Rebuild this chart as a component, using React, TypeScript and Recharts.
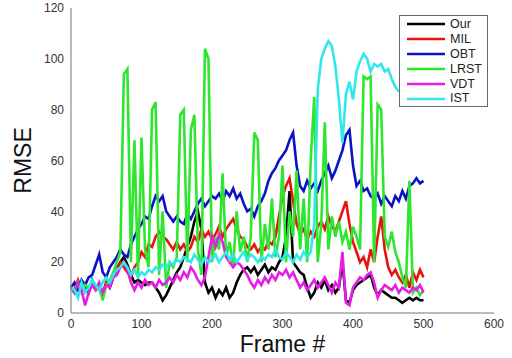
import React from 'react';
import { LineChart, Line, XAxis, YAxis, Legend } from 'recharts';

const FONT = '"Liberation Sans", Arial, Helvetica, sans-serif';

const frames = [
  0, 5, 10, 15, 20, 25, 30, 35, 40, 45, 50,
  55, 60, 65, 70, 75, 80, 85, 90, 95, 100,
  105, 110, 115, 120, 125, 130, 135, 140, 145, 150,
  155, 160, 165, 170, 175, 180, 185, 190, 195, 200,
  205, 210, 215, 220, 225, 230, 235, 240, 245, 250,
  255, 260, 265, 270, 275, 280, 285, 290, 295, 300,
  305, 310, 315, 320, 325, 330, 335, 340, 345, 350,
  355, 360, 365, 370, 375, 380, 385, 390, 395, 400,
  405, 410, 415, 420, 425, 430, 435, 440, 445, 450,
  455, 460, 465, 470, 475, 480, 485, 490, 495, 500,
];

const ourRmse = [
  10, 8, 12, 9, 11, 8, 13, 10, 11, 7, 12,
  10, 14, 17, 20, 22, 19, 15, 12, 13, 12,
  11, 12, 12, 10, 8, 5, 7, 10, 13, 16,
  18, 22, 26, 30, 36, 40, 33, 12, 8, 10,
  6, 9, 7, 10, 6, 8, 12, 15, 17, 18,
  16, 18, 15, 17, 19, 16, 18, 17, 20, 22,
  30, 48, 20, 18, 16, 15, 10, 6, 8, 12,
  10, 13, 9, 11, 8, 10, 20, 5, 4, 9,
  11, 12, 13, 14, 15, 10, 7, 9, 8, 7,
  6, 6, 5, 4, 5, 6, 5, 6, 5, 5,
];

const milRmse = [
  10, 9, 13, 10, 11, 9, 12, 11, 10, 8, 12,
  11, 15, 18, 20, 18, 16, 14, 18, 20, 24,
  22, 27, 26, 30, 32, 30, 29, 27, 25, 28,
  25, 27, 24, 26, 30, 28, 33, 30, 32, 29,
  31, 34, 30, 33, 35, 37, 33, 30, 29, 26,
  25, 27, 24, 26, 25, 28, 27, 30, 38, 46,
  50, 53, 44, 35, 31, 33, 29, 32, 30, 34,
  36, 33, 38, 34, 32, 36, 40, 44, 35, 28,
  24, 20, 22, 18, 25, 20, 30, 38, 25, 18,
  15, 17, 14, 12, 15, 10, 16, 13, 17, 14,
];

const obtRmse = [
  10, 12, 9, 13, 11, 14, 15, 19, 23, 16, 14,
  18, 20, 22, 25, 23, 22, 27, 30, 33, 35,
  38, 37, 42, 46, 44, 46, 40, 38, 36, 38,
  36, 35, 39, 37, 40, 43, 45, 42, 44, 46,
  45, 47, 44, 48, 46, 49, 45, 47, 43, 40,
  41, 38, 42, 44, 47, 52, 55, 57, 60, 62,
  64, 68, 71, 58, 50, 48, 52, 49, 51, 48,
  52, 55, 58, 53, 56, 60, 64, 70, 72, 58,
  50, 52, 48, 49, 46, 45, 47, 43, 46, 44,
  42, 46, 44, 48, 45, 50, 51, 53, 51, 52,
];

const lrstRmse = [
  10, 9, 12, 8, 11, 10, 12, 9, 10, 5, 11,
  13, 16, 20, 24, 94, 96, 20, 68, 15, 69,
  25, 18, 80, 83, 15, 40, 10, 20, 18, 22,
  78, 80, 20, 72, 78, 25, 15, 104, 100, 20,
  30, 25, 55, 22, 28, 18, 40, 24, 30, 20,
  30, 71, 68, 20, 35, 25, 45, 22, 30, 58,
  20, 40, 30, 56, 25, 45, 20, 60, 85, 20,
  35, 75, 25, 38, 30, 36, 28, 32, 25, 34,
  30, 25, 93, 92, 93, 20, 82, 80, 30, 26,
  32, 24, 20, 14, 10, 52, 8, 10, 7, 9,
];

const vdtRmse = [
  10, 8, 12, 9, 3, 8, 11, 9, 12, 8, 11,
  10, 14, 15, 18, 20, 17, 12, 9, 12, 10,
  13, 11, 12, 10, 13, 11, 12, 14, 12, 15,
  13, 16, 14, 18, 16, 13, 11, 14, 22, 30,
  26, 31, 28, 22, 20, 18, 20, 19, 17, 15,
  12, 10, 13, 11, 14, 12, 15, 13, 16, 15,
  17, 14, 16, 13, 10, 12, 9, 11, 13, 10,
  12, 14, 11, 8, 12, 10, 24, 4, 3, 10,
  12, 14, 13, 15, 16, 12, 6, 9, 11, 10,
  9, 11, 8, 10, 9, 8, 10, 9, 11, 8,
];

const istRmse: (number | null)[] = [
  10, 9, 6, 12, 8, 10, 13, 11, 9, 12, 14,
  12, 15, 17, 18, 20, 18, 15, 17, 14, 16,
  15, 17, 16, 18, 17, 19, 18, 20, 19, 21,
  20, 22, 21, 20, 23, 21, 19, 22, 20, 21,
  23, 20, 22, 24, 21, 23, 20, 22, 24, 21,
  23, 22, 20, 22, 21, 23, 22, 25, 22, 21,
  24, 22, 20, 23, 21, 24, 22, 24, 35, 88,
  100, 104, 107, 105, 97, 84, 67, 86, 91, 84,
  95, 99, 102, 100, 95, 98, 97, 98, 95, 96,
  92, 89, 87, null, null, null, null, null, null, null,
];

const xTicks = [0, 100, 200, 300, 400, 500, 600];
const yTicks = [0, 20, 40, 60, 80, 100, 120];

const series = [
  { key: 'our', name: 'Our', color: '#000000', values: ourRmse },
  { key: 'mil', name: 'MIL', color: '#e8140c', values: milRmse },
  { key: 'obt', name: 'OBT', color: '#0a12c8', values: obtRmse },
  { key: 'lrst', name: 'LRST', color: '#2ee62e', values: lrstRmse },
  { key: 'vdt', name: 'VDT', color: '#e41ee4', values: vdtRmse },
  { key: 'ist', name: 'IST', color: '#30e8e8', values: istRmse },
];

const data = frames.map((f, i) => {
  const row: Record<string, number | null> = { frame: f };
  series.forEach((s) => {
    row[s.key] = s.values[i] as number | null;
  });
  return row;
});

const AXIS = '#777777';
const tickStyle = { fontSize: 12, fill: '#333333', fontFamily: FONT };

const renderLegend = () => (
  <div
    style={{
      boxSizing: 'border-box',
      width: 89,
      height: 92,
      background: '#ffffff',
      border: '1px solid #666666',
      paddingTop: 1,
    }}
  >
    {series.map((s) => (
      <div key={s.key} style={{ display: 'flex', alignItems: 'center', height: 14.9 }}>
        <svg width={45} height={6} style={{ display: 'block' }}>
          <line x1={7} x2={45} y1={3} y2={3} stroke={s.color} strokeWidth={2.6} />
        </svg>
        <span
          style={{
            marginLeft: 5,
            fontSize: 12.5,
            fontFamily: FONT,
            color: '#222222',
            lineHeight: '14.9px',
          }}
        >
          {s.name}
        </span>
      </div>
    ))}
  </div>
);

export default function App() {
  return (
    <div style={{ position: 'absolute', left: 0, top: 0, background: '#ffffff' }}>
      <LineChart
        width={512}
        height={358}
        data={data}
        margin={{ top: 8, right: 18, bottom: 0, left: 1 }}
      >
        <XAxis
          dataKey="frame"
          type="number"
          domain={[0, 600]}
          ticks={xTicks}
          height={45}
          tickLine={false}
          tickSize={6}
          tickMargin={0}
          axisLine={{ stroke: AXIS }}
          tick={tickStyle}
          label={{
            value: 'Frame #',
            position: 'insideBottom',
            offset: 6,
            style: { fontSize: 23, fill: '#111111', fontFamily: FONT },
          }}
        />
        <XAxis
          xAxisId="bt"
          dataKey="frame"
          type="number"
          domain={[0, 600]}
          ticks={xTicks}
          mirror
          height={0}
          tick={false}
          axisLine={false}
          tickSize={4}
          tickLine={{ stroke: AXIS }}
        />
        <XAxis
          xAxisId="tp"
          orientation="top"
          dataKey="frame"
          type="number"
          domain={[0, 600]}
          ticks={xTicks}
          mirror
          height={0}
          tick={false}
          axisLine={{ stroke: AXIS }}
          tickSize={4}
          tickLine={{ stroke: AXIS }}
        />
        <YAxis
          type="number"
          domain={[0, 120]}
          ticks={yTicks}
          width={70}
          tickLine={false}
          tickSize={6}
          tickMargin={1}
          axisLine={{ stroke: AXIS }}
          tick={tickStyle}
          label={{
            value: 'RMSE',
            angle: -90,
            position: 'insideLeft',
            offset: 22,
            style: { textAnchor: 'middle', fontSize: 23, fill: '#111111', fontFamily: FONT },
          }}
        />
        <YAxis
          yAxisId="lt"
          type="number"
          domain={[0, 120]}
          ticks={yTicks}
          mirror
          width={0}
          tick={false}
          axisLine={false}
          tickSize={4}
          tickLine={{ stroke: AXIS }}
        />
        <YAxis
          yAxisId="rt"
          orientation="right"
          type="number"
          domain={[0, 120]}
          ticks={yTicks}
          mirror
          width={0}
          tick={false}
          axisLine={{ stroke: AXIS }}
          tickSize={4}
          tickLine={{ stroke: AXIS }}
        />
        {series.map((s) => (
          <Line
            key={s.key}
            type="linear"
            dataKey={s.key}
            name={s.name}
            stroke={s.color}
            strokeWidth={2.6}
            dot={false}
            activeDot={false}
            isAnimationActive={false}
            connectNulls={false}
          />
        ))}
        <Legend
          layout="horizontal"
          verticalAlign="middle"
          align="center"
          content={renderLegend}
          wrapperStyle={{ position: 'absolute', left: 399, top: 15, width: 89, height: 92, margin: 0, padding: 0 }}
        />
      </LineChart>
    </div>
  );
}
